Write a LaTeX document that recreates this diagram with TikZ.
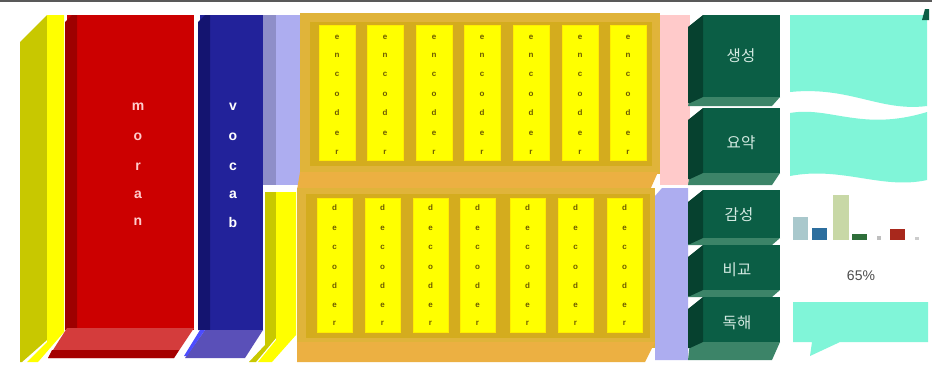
\documentclass[tikz,border=0pt]{standalone}
\usepackage{fontspec}
\setmainfont{Liberation Sans}
\newfontfamily\kr{Noto Sans CJK KR}
\definecolor{ydark}{HTML}{C8C800}
\definecolor{ylw}{HTML}{FFFF00}
\definecolor{redm}{HTML}{CC0000}
\definecolor{redd}{HTML}{9E0000}
\definecolor{redb}{HTML}{D43C3C}
\definecolor{navym}{HTML}{22229A}
\definecolor{navyd}{HTML}{141470}
\definecolor{navyb}{HTML}{5A50B8}
\definecolor{lav}{HTML}{ADADF0}
\definecolor{lavd}{HTML}{8E8EC8}
\definecolor{goldm}{HTML}{D4AC1E}
\definecolor{goldo}{HTML}{E0B43A}
\definecolor{orng}{HTML}{ECB042}
\definecolor{pinkl}{HTML}{FFCACA}
\definecolor{grn}{HTML}{0B5E45}
\definecolor{grnd}{HTML}{06412F}
\definecolor{grnb}{HTML}{3C8468}
\definecolor{aqua}{HTML}{80F5D8}
\definecolor{chr}{HTML}{6B5A00}
\definecolor{kltext}{HTML}{D4EAE2}
\definecolor{barA}{HTML}{A9C8CC}
\definecolor{barB}{HTML}{2C6E9E}
\definecolor{barC}{HTML}{C8D8A6}
\definecolor{barD}{HTML}{2E6E3A}
\definecolor{barE}{HTML}{A8281C}
\tikzset{
  bigletter/.style={font=\fontsize{14}{14}\selectfont\bfseries, inner sep=0pt},
  barchar/.style={font=\fontsize{8}{8}\selectfont\bfseries, text=chr, inner sep=0pt},
  krlabel/.style={font=\kr\fontsize{15.5}{15.5}\selectfont, text=kltext, inner sep=0pt},
  ybar/.style={fill=ylw, draw=ylw!85!orange, line width=0.6pt},
}
\begin{document}
\begin{tikzpicture}[x=1pt,y=-1pt]
\useasboundingbox (0,0) rectangle (932,365);
\fill[white] (0,0) rectangle (932,365);
\fill[black!65] (0,0) rectangle (932,2);

% left yellow slab
\fill[ydark] (20,42) -- (47,15) -- (47,340) -- (22,362) -- (20,362) -- cycle;
\fill[ylw] (47,15) -- (64,15) -- (64,332) -- (38,362) -- (27,362) -- (47,342) -- cycle;

% red block
\fill[redm] (67,15) rectangle (194,330);
\fill[redd] (65,22) -- (72,15) -- (77,15) -- (77,330) -- (65,330) -- cycle;
\fill[redb] (67,328) -- (194,328) -- (174,358) -- (48,358) -- cycle;
\fill[redd!85!redm] (52,350) -- (179,350) -- (174,358) -- (48,358) -- cycle;
\foreach \c/\y [count=\i] in {m/107,o/137,r/167,a/195,n/222}
  \node[bigletter, text=red!20!white] (m\i) at (138,\y) {\c};

% blue block
\fill[navym] (200,15) rectangle (263,330);
\fill[navyd] (198,22) -- (205,15) -- (210,15) -- (210,330) -- (198,330) -- cycle;
\fill[navyb] (205,330) -- (263,330) -- (245,358) -- (185,358) -- cycle;
\fill[blue!70!white] (200,330) -- (205,330) -- (187,356) -- (184,356) -- cycle;
\foreach \c/\y [count=\i] in {v/107,o/137,c/167,a/195,b/222}
  \node[bigletter, text=white] (v\i) at (233,\y) {\c};

% lavender strip top
\fill[lavd] (263,15) rectangle (276,185);
\fill[lav] (276,15) rectangle (300,185);

% lower left yellow strip
\fill[ydark] (265,192) -- (276,192) -- (276,338) -- (256,362) -- (249,362) -- (265,345) -- cycle;
\fill[ylw] (276,192) -- (296,192) -- (296,335) -- (272,362) -- (258,362) -- (276,340) -- cycle;

% upper panel
\fill[goldo] (300,13) rectangle (660,174);
\fill[goldm] (310,22) rectangle (652,166);
\fill[orng] (300,172) -- (658,172) -- (650,190) -- (297,190) -- cycle;
% pink strip
\fill[pinkl] (660,15) rectangle (690,185);

% lower panel
\fill[goldo] (297,188) rectangle (655,348);
\fill[goldm] (306,194) rectangle (650,338);
\fill[orng] (297,342) -- (655,342) -- (645,362) -- (297,362) -- cycle;
% lavender right
\fill[lav] (655,196) -- (662,188) -- (688,188) -- (688,360) -- (655,360) -- cycle;

% yellow bars upper
\foreach \x [count=\j] in {319,367,416,464,513,562,610} {
  \draw[ybar] (\x,25) rectangle ++(36,135);
  \foreach \c/\y [count=\i] in {e/37,n/55,c/74,o/94,d/113,e/133,r/152}
    \node[barchar] (u\j-\i) at (\x+18,\y) {\c};
}
% yellow bars lower
\foreach \x [count=\j] in {317,365,413,460,510,558,607} {
  \draw[ybar] (\x,198) rectangle ++(35,134);
  \foreach \c/\y [count=\i] in {d/208,e/228,c/247,o/267,d/286,e/305,r/323}
    \node[barchar] (l\j-\i) at (\x+17.5,\y) {\c};
}

% green blocks
\foreach \t/\b/\nb in {15/97/106, 108/173/185, 190/238/245, 245/290/297, 297/342/360} {
  \fill[grnb] (690,\b) -- (780,\b) -- (772,\nb) -- (700,\nb) -- (688,\nb) -- cycle;
  \fill[grn] (703,\t) rectangle (780,\b);
  \fill[grnd] (688,\t+12) -- (703,\t) -- (703,\b) -- (690,\b+6) -- (688,\b+6) -- cycle;
}
\node[krlabel] (g1) at (741,56) {생성};
\node[krlabel] (g2) at (741,143) {요약};
\node[krlabel] (g3) at (739,215) {감성};
\node[krlabel] (g4) at (737,270) {비교};
\node[krlabel] (g5) at (737,323) {독해};

% right aqua shapes
\fill[aqua] (790,15) -- (927,15) -- (927,106) .. controls (880,112) and (850,86) .. (790,92) -- cycle;
\fill[grn] (922,20) -- (925,9) -- (929,9) -- (929,20) -- cycle;
\fill[aqua] (790,113) .. controls (830,106) and (862,132) .. (927,112) -- (927,180) .. controls (882,190) and (842,166) .. (790,176) -- cycle;
% bar chart
\fill[barA] (793,217) rectangle (808,240);
\fill[barB] (812,228) rectangle (827,240);
\fill[barC] (833,195) rectangle (849,240);
\fill[barD] (852,234) rectangle (867,240);
\fill[gray!50] (877,236) rectangle (881,240);
\fill[barE] (890,229) rectangle (905,240);
\fill[gray!40] (915,237) rectangle (919,240);
\node[font=\fontsize{14}{14}\selectfont, text=black!70, inner sep=0pt] (pct) at (861,276) {65\%};
% bottom callout
\fill[aqua] (793,302) -- (928,302) -- (928,342) -- (840,342) -- (810,356) -- (812,342) -- (793,342) -- cycle;
\end{tikzpicture}
\end{document}
